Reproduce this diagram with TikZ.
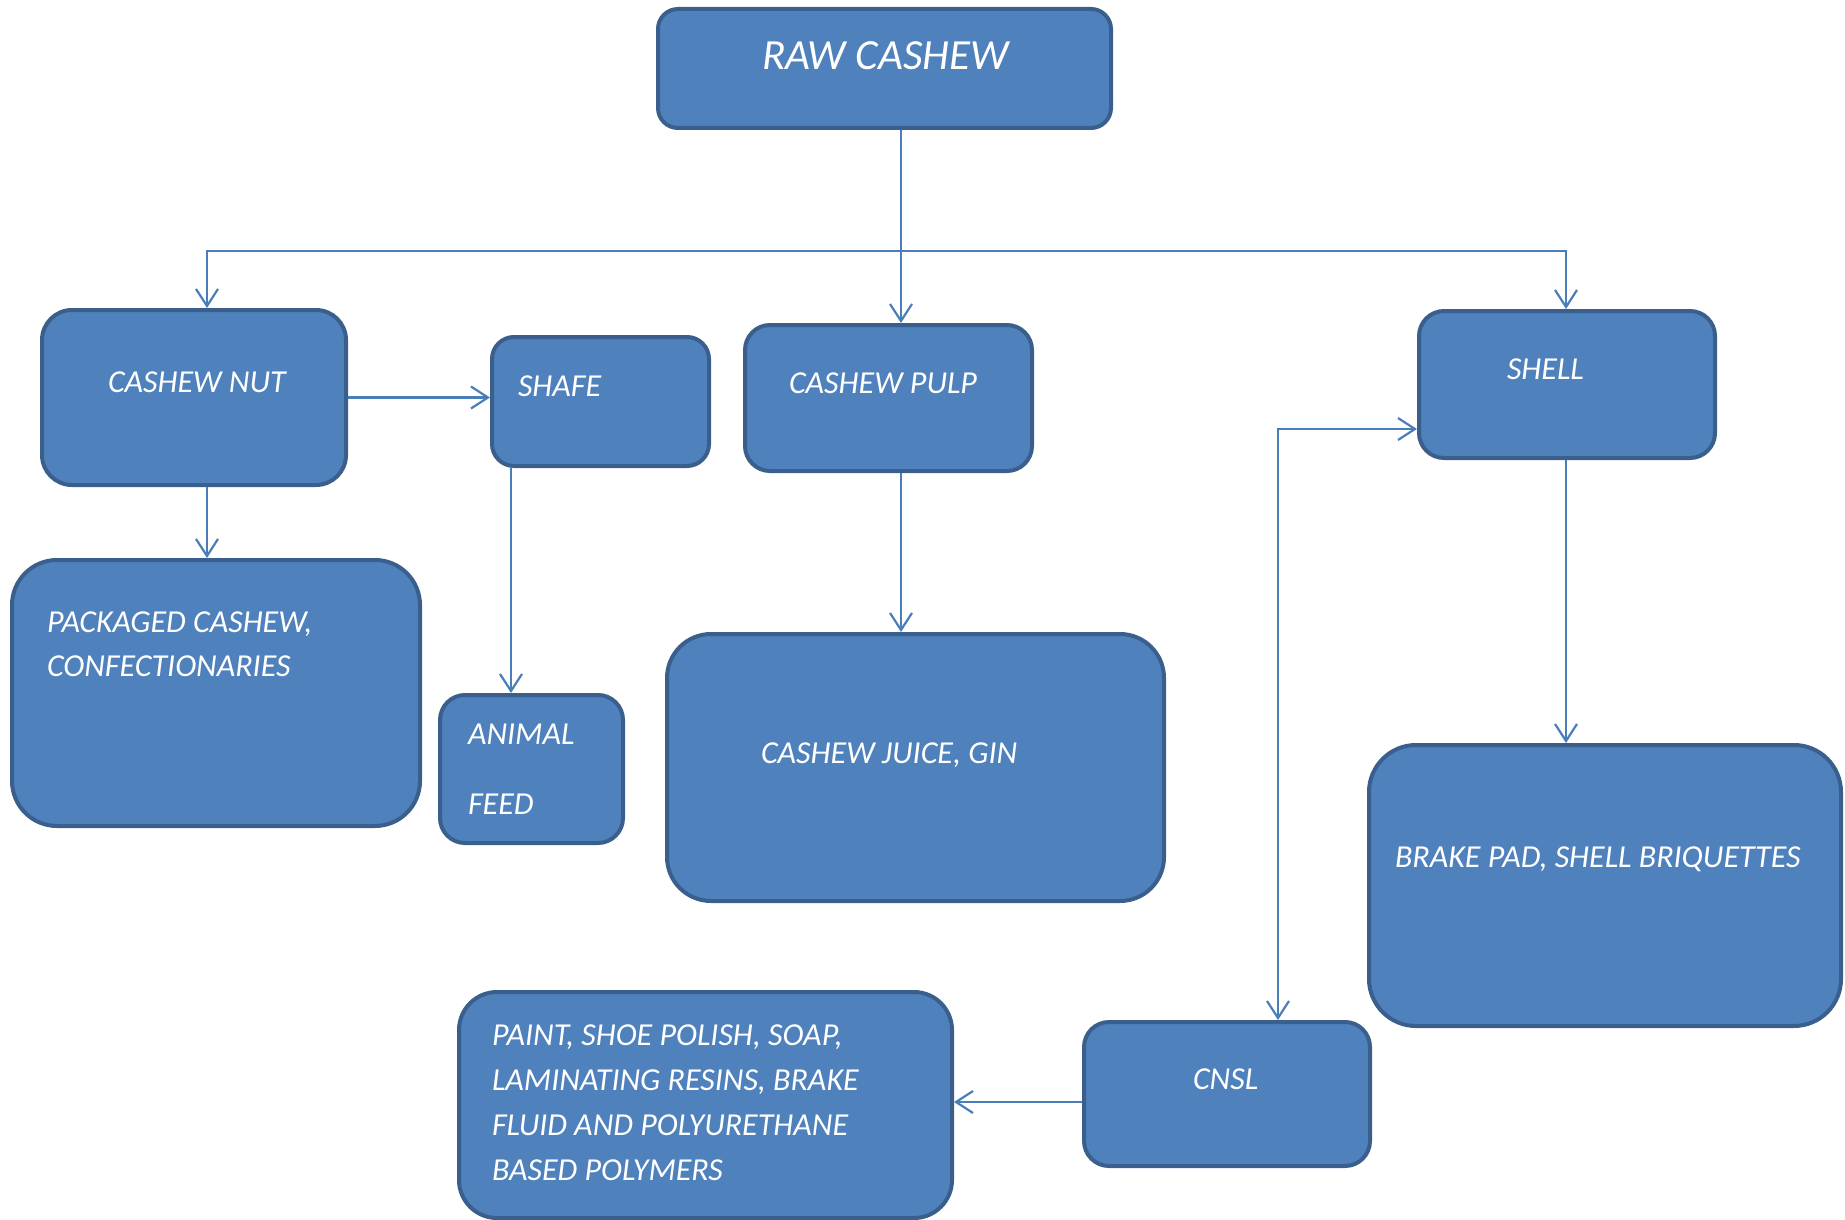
\documentclass[tikz,border=0pt]{standalone}
\usepackage{fontspec}
\setmainfont{Carlito}
\usetikzlibrary{arrows.meta}
\definecolor{boxfill}{HTML}{4F81BD}
\definecolor{boxline}{HTML}{3A5F8C}
\definecolor{conncol}{HTML}{4A7EBB}
\tikzset{
  box/.style={draw=boxline, fill=boxfill, line width=4pt, rectangle, inner sep=0pt},
  lbl/.style={anchor=base west, inner sep=0pt, outer sep=0pt, text=white,
              font=\fontsize{32}{40}\selectfont\itshape},
  biglbl/.style={lbl, font=\fontsize{43}{50}\selectfont\itshape},
  tipbarb/.tip={Straight Barb[length=17pt,width=22pt]},
  conn/.style={draw=conncol, line width=2.2pt, -tipbarb},
  conn2/.style={draw=conncol, line width=2.2pt, tipbarb-tipbarb},
}
\newcommand\mybox[6]{%
  \node[box, minimum width={#4-#2-4}, minimum height={#5-#3-4}, rounded corners=#6pt]
    (#1) at ({(#2+#4)/2},{-(#3+#5)/2}) {};}
\begin{document}
\begin{tikzpicture}[x=1pt,y=1pt]
\useasboundingbox (0,0) rectangle (1845,-1220);
% boxes (outer edges)
\mybox{raw}{656}{7}{1113}{130}{20}
\mybox{nut}{40}{308}{348}{487}{30}
\mybox{shafe}{490}{335}{711}{468}{22}
\mybox{pack}{10}{558}{422}{828}{45}
\mybox{animal}{438}{693}{625}{845}{25}
\mybox{pulp}{743}{323}{1034}{473}{25}
\mybox{juice}{665}{632}{1166}{903}{44}
\mybox{shell}{1417}{309}{1717}{460}{25}
\mybox{brake}{1367}{743}{1843}{1028}{47}
\mybox{cnsl}{1082}{1020}{1372}{1168}{25}
\mybox{paint}{457}{990}{954}{1220}{38}
% texts
\node[biglbl] (raw-t) at (762,-70) {RAW CASHEW};
\node[lbl] (nut-t) at (108,-392) {CASHEW NUT};
\node[lbl] (shafe-t) at (518,-396) {SHAFE};
\node[lbl] (pack-t1) at (47,-632) {PACKAGED CASHEW,};
\node[lbl] (pack-t2) at (47,-676) {CONFECTIONARIES};
\node[lbl] (animal-t1) at (468,-744) {ANIMAL};
\node[lbl] (animal-t2) at (468,-814) {FEED};
\node[lbl] (pulp-t) at (789,-393) {CASHEW PULP};
\node[lbl] (juice-t) at (761,-763) {CASHEW JUICE, GIN};
\node[lbl] (shell-t) at (1507,-379) {SHELL};
\node[lbl] (brake-t) at (1395,-867) {BRAKE PAD, SHELL BRIQUETTES};
\node[lbl] (cnsl-t) at (1193,-1089) {CNSL};
\node[lbl] (paint-t1) at (492,-1045) {PAINT, SHOE POLISH, SOAP,};
\node[lbl] (paint-t2) at (492,-1090) {LAMINATING RESINS, BRAKE};
\node[lbl] (paint-t3) at (492,-1135) {FLUID AND POLYURETHANE};
\node[lbl] (paint-t4) at (492,-1180) {BASED POLYMERS};
% junction coordinates
\coordinate (j) at (901,-251);
\coordinate (jl) at (207,-251);
\coordinate (jr) at (1566,-251);
\coordinate (sa) at (511,-400);
\coordinate (k) at (1278,-429);
\coordinate (c) at (1000,-1102);
% connectors
\draw[conn] (raw.south -| j) -- (j |- pulp.north);
\draw[conn] (j) -- (jl) -- (jl |- nut.north);
\draw[conn] (j) -- (jr) -- (jr |- shell.north);
\draw[conn] (jl |- nut.south) -- (jl |- pack.north);
\draw[conn] (nut.east) -- (nut.east -| shafe.west);
\draw[conn] (sa |- shafe.south) -- (sa |- animal.north);
\draw[conn] (j |- pulp.south) -- (j |- juice.north);
\draw[conn] (jr |- shell.south) -- (jr |- brake.north);
\draw[conn2] (k -| shell.west) -- (k) -- (k |- cnsl.north);
\draw[conn] (c -| cnsl.west) -- (c -| paint.east);
\end{tikzpicture}
\end{document}
